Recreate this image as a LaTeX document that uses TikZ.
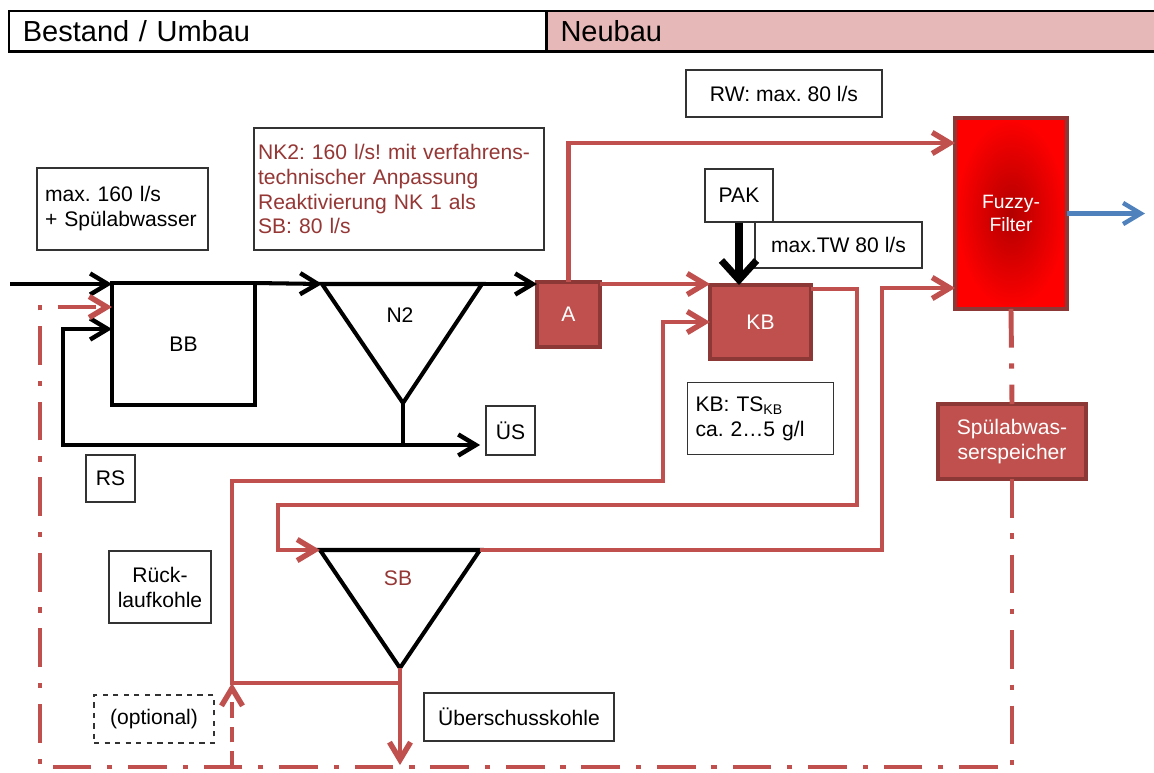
\documentclass[tikz,border=0pt]{standalone}
\usepackage{fontspec}
\setmainfont{Liberation Sans}
\usepackage{tikz}
\usetikzlibrary{arrows.meta,positioning,calc,shapes}
\frenchspacing

\definecolor{neubau}{HTML}{E6B8B7}
\definecolor{kohlerot}{HTML}{C0504D}
\definecolor{kohlerand}{HTML}{8C3836}
\definecolor{textrot}{HTML}{953735}
\definecolor{ablaufblau}{HTML}{4F81BD}

\tikzstyle{every node}=[font=\fontsize{12}{14.2}\selectfont]
\tikzstyle{kopf}=[draw, line width=1pt, minimum height=0.8cm, inner xsep=0.28cm, inner ysep=0pt, align=left, font=\fontsize{16.5}{19}\selectfont]
\tikzstyle{infobox}=[draw=black!80, line width=0.7pt, fill=white, inner sep=0pt, align=center]
\tikzstyle{becken}=[draw=black, line width=2.3pt, inner sep=0pt, outer sep=0pt]
\tikzstyle{rotbox}=[fill=kohlerot, draw=kohlerand, line width=2pt, text=white, inner sep=0pt, outer sep=0pt, align=center]
\tikzstyle{pfeil}=[-{Straight Barb[length=10pt,width=12pt,line width=0pt 1.1]}]
\tikzstyle{schwarz}=[draw=black, line width=2.3pt]
\tikzstyle{rotlinie}=[draw=kohlerot, line width=2.8pt]
\tikzstyle{strichpunkt}=[dash pattern=on 22pt off 9pt on 3pt off 9pt]

\begin{document}
\begin{tikzpicture}[x=0.02cm, y=-0.02cm]
  \useasboundingbox (0,0) rectangle (1154,772);

  % Kopfzeile
  \node[kopf, anchor=north west, minimum width=10.74cm, text width=10.18cm] (bestand) at (8,10) {Bestand / Umbau};
  \node[kopf, fill=neubau, anchor=north west, inner xsep=0.26cm, text width=11.78cm] (neubau) at (bestand.north east) {Neubau};
  \draw[line width=1.6pt] (bestand.south west) -- ++(1160,0);

  % Bestand: BB und N2
  \node[becken, minimum width=2.86cm, minimum height=2.44cm] (BB) at (183.5,344) {BB};
  \coordinate (n2l) at (322,284);
  \coordinate (n2r) at (482,284);
  \coordinate (n2b) at (403,403);
  \coordinate (n2fuss) at (403,445);
  \draw[schwarz] (n2l) -- (n2r) -- (n2b) -- cycle;
  \node (N2) at (400,315) {N2};

  % Neubau: SB
  \coordinate (sbl) at (320,550);
  \coordinate (sbr) at (480,550);
  \coordinate (sbb) at (400,668);
  \draw[schwarz] (sbl) -- (sbr) -- (sbb) -- cycle;
  \node[text=textrot] (SB) at (398,578) {SB};

  % Texte
  \node[infobox, minimum width=3.92cm, minimum height=0.94cm] (RW) at (784,93.5) {RW: max. 80 l/s};
  \node[infobox, text width=3.1cm, inner xsep=0.16cm, align=left, minimum height=1.64cm] (zulauf) at (122.5,209) {max. 160 l/s\\+ Spülabwasser};
  \node[infobox, text=textrot, text width=5.64cm, inner xsep=0.08cm, align=left, minimum height=2.44cm] (NK2) at (399,189) {NK2: 160 l/s! mit verfahrens-\\technischer Anpassung\\Reaktivierung NK 1 als\\SB: 80 l/s};
  \node[infobox, minimum width=1.36cm, minimum height=1.06cm] (PAK) at (739,195.5) {PAK};
  \node[infobox, minimum width=3.34cm, minimum height=0.92cm] (maxTW) at (838.5,245) {max.TW 80 l/s};
  \node[infobox, minimum size=0.98cm] (US) at (510.5,430.5) {ÜS};
  \node[infobox, minimum width=0.98cm, minimum height=0.94cm] (RS) at (110.5,478.5) {RS};
  \node[infobox, minimum width=2.04cm, minimum height=1.44cm] (RLK) at (160,587) {Rück-\\laufkohle};
  \node[infobox, dashed, minimum width=2.4cm, minimum height=0.96cm] (optional) at (154,719) {(optional)};
  \node[infobox, minimum width=3.8cm, minimum height=0.96cm] (UEK) at (519,717) {Überschusskohle};

  % Anlagenteile Neubau
  \node[rotbox, minimum width=1.26cm, minimum height=1.3cm] (A) at (568.5,314.5) {A};
  \node[rotbox, minimum width=2.02cm, minimum height=1.48cm] (KB) at (760.5,322) {KB};
  \node[infobox, text width=2.6cm, inner xsep=0.16cm, align=left, minimum height=1.44cm, below=0.46cm of KB] (KBTS) {KB: TS\textsubscript{KB}\\ca. 2…5 g/l};
  \node[rotbox, inner color=red!70!black, outer color=red, minimum width=2.24cm, minimum height=3.82cm, font=\fontsize{11}{13}\selectfont] (fuzzy) at (1011,213.5) {Fuzzy-\\Filter};
  \node[rotbox, minimum width=2.96cm, minimum height=1.5cm] (speicher) at (1012,441.5) {Spülabwas-\\serspeicher};

  \coordinate (zulauf in) at (10,284);
  \coordinate (rsknick) at (63,329);
  \coordinate (rwhoehe) at (568,143);
  \coordinate (kbab) at (857,505);
  \coordinate (sbzu) at (278,550);
  \coordinate (fzzu) at (882,288);
  \coordinate (ukende) at (400,765);
  \coordinate (rkfuss) at (232,683);
  \coordinate (rkoben) at (663,481);
  \coordinate (optfuss) at (232,767);
  \coordinate (ruecklauf) at (40,767);
  \coordinate (bbspuel) at (112,307);

  % Bestand: schwarze Leitungen
  \draw[schwarz, pfeil] (zulauf in) -- (zulauf in -| BB.west);
  \path (BB.north east) edge[schwarz, pfeil] (n2l);
  \path (n2r) edge[schwarz, pfeil] (n2r -| A.west);
  \draw[schwarz] (n2b) -- (n2fuss);
  \draw[schwarz, pfeil] (n2fuss) -| (rsknick) -- (rsknick -| BB.west);
  \draw[schwarz, pfeil, shorten >=3pt] (n2fuss) -- (n2fuss -| US.west);
  \draw[draw=black, line width=4pt, -{Straight Barb[length=11pt,width=20pt]}] (PAK.south) -- (PAK.south |- KB.north);

  % Neubau: rote Leitungen
  \draw[rotlinie, pfeil] (A.north) |- (rwhoehe -| fuzzy.west);
  \draw[rotlinie, pfeil] ($(A.north east)+(0,2)$) -- ($(A.north east -| KB.west)+(0,2)$);
  \draw[rotlinie, pfeil] ($(KB.north east)+(0,4)$) -| (kbab) -| (sbzu) -- (sbl);
  \draw[rotlinie, pfeil] (sbr) -| (fzzu) -- (fzzu -| fuzzy.west);
  \draw[rotlinie, pfeil] (sbb) -- (ukende);
  \draw[rotlinie, pfeil] (sbb) |- (rkfuss) |- (rkoben) |- (KB.west);
  \draw[rotlinie, dashed, dash pattern=on 9pt off 5pt, pfeil] (optfuss) -- (rkfuss);

  % Spuelabwasser
  \draw[rotlinie, strichpunkt] (fuzzy.south) -- (speicher.north);
  \draw[rotlinie, strichpunkt, pfeil] (speicher.south) |- (ruecklauf) |- (bbspuel);

  % Ablauf
  \draw[draw=ablaufblau, line width=2.3pt, pfeil] (fuzzy.east) -- ++(78,0);
\end{tikzpicture}
\end{document}
